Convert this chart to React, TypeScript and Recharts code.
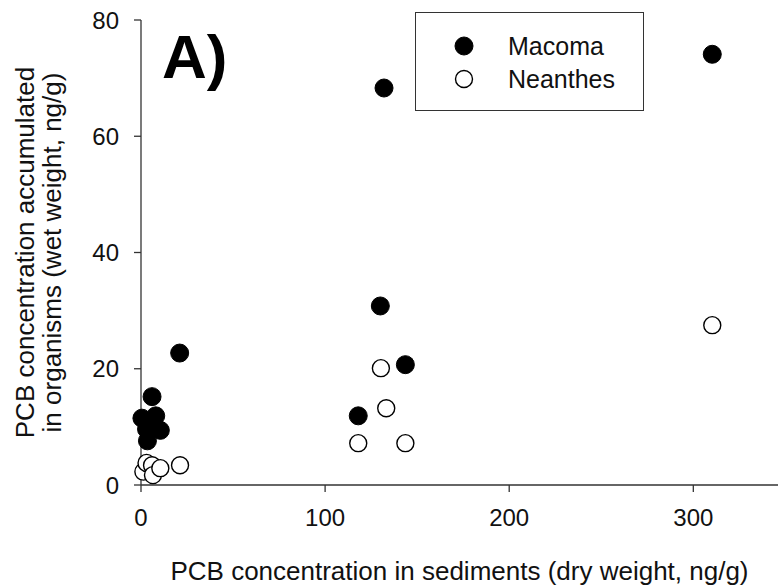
import React from "react";
import { ScatterChart, Scatter, XAxis, YAxis, Legend } from "recharts";

const FONT = '"Liberation Sans", Arial, sans-serif';
const INK = "#111";

// PCB in sediment (dry wt, ng/g) vs PCB accumulated in tissue (wet wt, ng/g)
const macomaSediment = [0.5, 6, 8, 10.5, 3, 3.5, 21, 118, 130, 132, 143.6, 310.3];
const macomaTissue = [11.5, 15.2, 11.9, 9.4, 9.6, 7.6, 22.7, 11.9, 30.8, 68.3, 20.7, 74.1];
const neanthesSediment = [1.3, 3, 6, 6.5, 10.5, 21.2, 118, 130.3, 133.2, 143.6, 310.3];
const neanthesTissue = [2.3, 3.8, 3.4, 1.7, 2.9, 3.4, 7.2, 20.1, 13.2, 7.2, 27.5];

const xTicks = [0, 100, 200, 300];
const yTicks = [0, 20, 40, 60, 80];
const seriesNames = ["Macoma", "Neanthes"];

const toPoints = (xs: number[], ys: number[]) => xs.map((x, i) => ({ x, y: ys[i] }));
const macoma = toPoints(macomaSediment, macomaTissue);
const neanthes = toPoints(neanthesSediment, neanthesTissue);

const R = 9;

function FilledDot(props: any) {
  return <circle cx={props.cx} cy={props.cy} r={R} fill="#000" stroke="#000" strokeWidth={1} />;
}

function OpenDot(props: any) {
  return <circle cx={props.cx} cy={props.cy} r={R - 0.5} fill="#fff" stroke="#000" strokeWidth={1.4} />;
}

function YTitle(props: any) {
  const { y, height } = props.viewBox;
  const cy = y + height / 2;
  return (
    <g fontFamily={FONT} fontSize={26} fill={INK} textAnchor="middle">
      <text x={34} y={cy} transform={`rotate(-90, 34, ${cy})`}>PCB concentration accumulated</text>
      <text x={61} y={cy} transform={`rotate(-90, 61, ${cy})`}>in organisms (wet weight, ng/g)</text>
    </g>
  );
}

function LegendBox() {
  const rows = [
    { name: seriesNames[0], filled: true },
    { name: seriesNames[1], filled: false },
  ];
  return (
    <div
      style={{
        position: "relative",
        width: 227,
        height: 97,
        border: "1.3px solid #333",
        background: "#fff",
        fontFamily: FONT,
        fontSize: 25,
        color: INK,
      }}
    >
      {rows.map((r, i) => (
        <div key={r.name} style={{ position: "absolute", left: 0, top: 33 * i + 19, height: 28, width: 227 }}>
          <svg width={24} height={24} style={{ position: "absolute", left: 36, top: 2 }}>
            <circle
              cx={12}
              cy={12}
              r={r.filled ? 9 : 8.5}
              fill={r.filled ? "#000" : "#fff"}
              stroke="#000"
              strokeWidth={r.filled ? 1 : 1.4}
            />
          </svg>
          <span style={{ position: "absolute", left: 92, top: 0, lineHeight: "28px", whiteSpace: "nowrap" }}>
            {r.name}
          </span>
        </div>
      ))}
    </div>
  );
}

export default function App() {
  return (
    <div style={{ position: "absolute", left: 0, top: 0, width: 778, height: 586, background: "#fff" }}>
      <ScatterChart width={778} height={586} margin={{ top: 20, right: 0, bottom: 0, left: 0 }}>
        <XAxis
          type="number"
          dataKey="x"
          domain={[0, 346]}
          ticks={xTicks}
          height={101}
          tickSize={7}
          tickMargin={17}
          axisLine={{ stroke: "#333", strokeWidth: 1.3 }}
          tickLine={{ stroke: "#333", strokeWidth: 1.3 }}
          tick={{ fontSize: 24, fontFamily: FONT, fill: INK }}
          label={{
            value: "PCB concentration in sediments (dry weight, ng/g)",
            position: "insideBottom",
            offset: 6,
            style: { fontSize: 26, fontFamily: FONT, fill: INK },
          }}
        />
        <YAxis
          type="number"
          dataKey="y"
          domain={[0, 80]}
          ticks={yTicks}
          width={141}
          tickSize={7}
          tickMargin={15}
          axisLine={{ stroke: "#333", strokeWidth: 1.3 }}
          tickLine={{ stroke: "#333", strokeWidth: 1.3 }}
          tick={{ fontSize: 24, fontFamily: FONT, fill: INK }}
          label={<YTitle />}
        />
        <Legend
          layout="horizontal"
          verticalAlign="middle"
          align="center"
          content={() => <LegendBox />}
          wrapperStyle={{ position: "absolute", left: 415, top: 12, width: 230, height: 100 }}
        />
        <Scatter name="Macoma" data={macoma} shape={FilledDot} isAnimationActive={false} />
        <Scatter name="Neanthes" data={neanthes} shape={OpenDot} isAnimationActive={false} />
      </ScatterChart>
      <svg width={778} height={120} style={{ position: "absolute", left: 0, top: 0, pointerEvents: "none" }}>
        <text x={162} y={78} fontFamily={FONT} fontSize={62} fontWeight="bold" fill="#000">
          A)
        </text>
      </svg>
    </div>
  );
}
